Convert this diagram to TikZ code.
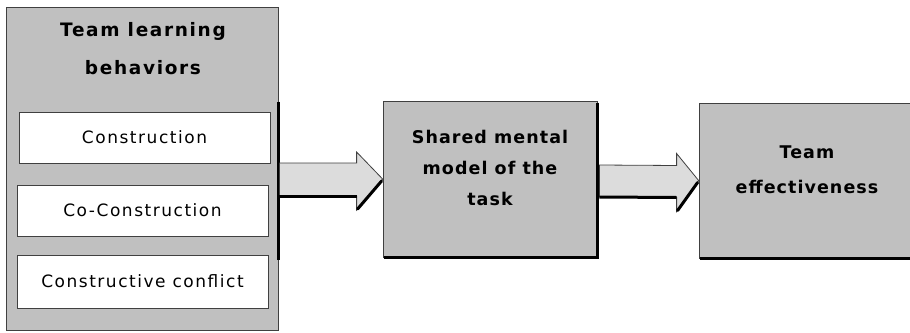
\documentclass[tikz,border=0pt]{standalone}
\usepackage{fontspec}
\setmainfont{DejaVu Sans}[LetterSpace=6]
\newfontfamily\widefont{DejaVu Sans}[LetterSpace=9]
\usetikzlibrary{calc}
\definecolor{boxgray}{HTML}{C0C0C0}
\definecolor{arrgray}{HTML}{DCDCDC}
\definecolor{edge}{HTML}{404040}
\tikzset{
  bigbox/.style={draw=edge, line width=0.8pt, fill=boxgray, inner sep=0pt},
  subbox/.style={draw=edge, line width=0.9pt, fill=white, inner sep=0pt, font=\widefont\fontsize{17}{19}\selectfont},
  titletext/.style={font=\bfseries\fontsize{17.5}{31}\selectfont, align=center, inner sep=0pt},
  shadow/.style={black, line width=3pt},
  arrbody/.style={draw=edge, line width=0.8pt, fill=arrgray},
}
\begin{document}
\begin{tikzpicture}[x=1pt,y=-1pt]
\useasboundingbox (0,0) rectangle (910,332);
% left box
\node[bigbox, minimum width=272pt, minimum height=323pt] (L) at (142,168.5) {};
\draw[shadow] ($(L.north east)+(0,95)$) -- ($(L.north east)+(0,253)$);
\node[titletext, font=\widefont\bfseries\fontsize{18.5}{38}\selectfont] (Lt) at (143,48.5) {Team learning\\behaviors};
\node[subbox, minimum width=251pt, minimum height=51pt] (c1) at (144.5,137.5) {Construction};
\node[subbox, minimum width=251pt, minimum height=51pt] (c2) at (142.5,210.5) {Co-Construction};
\node[subbox, minimum width=251pt, minimum height=53pt] (c3) at (142.5,281.5) {Constructive conflict};
% middle box
\node[bigbox, minimum width=214pt, minimum height=156pt] (M) at (490,179) {};
\draw[shadow] ($(M.north east)+(0,2)$) -- (M.south east) -- ($(M.south west)+(1,0)$);
\node[titletext] (Mt) at (490,168) {Shared mental\\model of the\\task};
% right box
\node[bigbox, minimum width=212pt, minimum height=155pt] (R) at (805,180.5) {};
\draw[shadow] ($(R.south west)+(1,0)$) -- (R.south east);
\node[titletext, font=\bfseries\fontsize{17.5}{35}\selectfont] (Rt) at (807,170) {Team\\effectiveness};
% arrow 1
\coordinate (a1s) at ($(L.east)+(1,0)$);
\path[arrbody] (a1s |- 0,163) -- ($(M.west)+(-26,-16)$) -- ($(M.west)+(-26,-27)$) -- (M.west)
  -- ($(M.west)+(-26,31)$) -- ($(M.west)+(-26,17)$) -- (a1s |- 0,196) -- cycle;
\draw[shadow] (a1s |- 0,196) -- ($(M.west)+(-26,17)$);
\draw[shadow, line cap=round] ($(M.west)+(-1,2)$) -- ($(M.west)+(-25,30)$);
% arrow 2
\coordinate (a2s) at ($(M.east)+(2,0)$);
\path[arrbody] (a2s |- 0,165) -- ($(R.west)+(-22,-15)$) -- ($(R.west)+(-22,-27)$) -- (R.west)
  -- ($(R.west)+(-22,31)$) -- ($(R.west)+(-22,17)$) -- (a2s |- 0,197) -- cycle;
\draw[shadow] (a2s |- 0,197) -- ($(R.west)+(-22,17)$);
\draw[shadow, line cap=round] ($(R.west)+(-1,2)$) -- ($(R.west)+(-21,30)$);
\end{tikzpicture}
\end{document}
